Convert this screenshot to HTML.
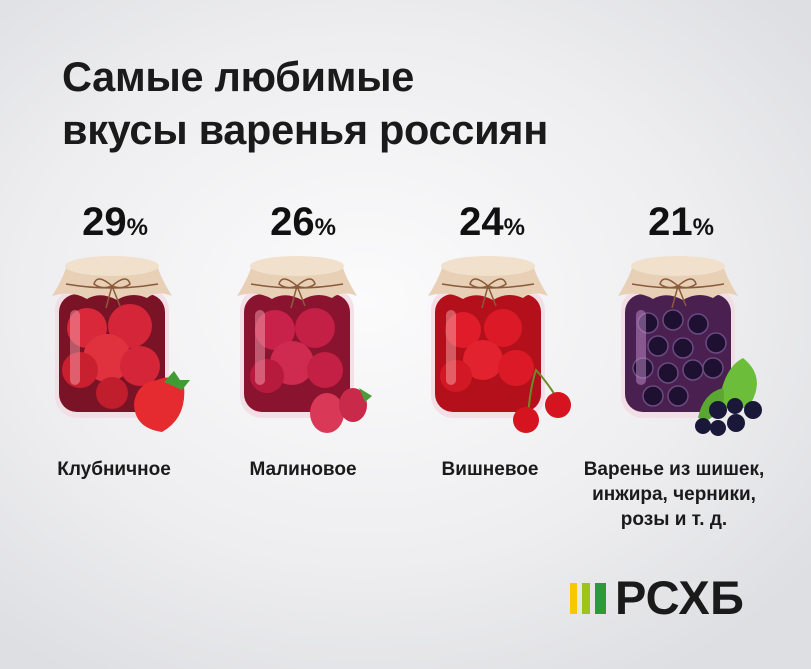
<!DOCTYPE html>
<html><head><meta charset="utf-8"><style>
html,body{margin:0;padding:0}
body{width:811px;height:669px;overflow:hidden;background:radial-gradient(ellipse 70% 65% at 45% 45%,#fbfbfc 0%,#eeeef0 60%,#dedfe2 100%);font-family:"Liberation Sans",sans-serif;position:relative}
.t{position:absolute;left:62px;top:50px;font-size:41.5px;font-weight:bold;line-height:53px;color:#1a1a1a;letter-spacing:-0.3px}
.p{position:absolute;top:200px;width:120px;text-align:center;font-size:40px;font-weight:bold;color:#111}
.p span{font-size:24px}
.l{position:absolute;top:457px;width:220px;text-align:center;font-size:19px;font-weight:bold;color:#1a1a1a;line-height:25px}
.logo{position:absolute;left:615px;top:570px;font-size:47px;font-weight:bold;color:#1a1a1a;letter-spacing:0.5px}
</style></head><body>
<div class="t">Самые любимые<br>вкусы варенья россиян</div>
<div class="p" style="left:55px">29<span>%</span></div>
<div class="p" style="left:243px">26<span>%</span></div>
<div class="p" style="left:432px">24<span>%</span></div>
<div class="p" style="left:621px">21<span>%</span></div>
<div class="l" style="left:4px">Клубничное</div>
<div class="l" style="left:193px">Малиновое</div>
<div class="l" style="left:380px">Вишневое</div>
<div class="l" style="left:564px">Варенье из шишек,<br>инжира, черники,<br>розы и т. д.</div>
<svg width="811" height="669" style="position:absolute;left:0;top:0">
<defs>
<g id="jarbase">
<rect x="-57" y="30" width="114" height="130" rx="22" fill="#f2dbe2" opacity="0.8"/>
</g>
<g id="lid">
<path d="M-60 38 Q-50 22 -46 10 Q0 -2 46 10 Q50 22 60 38 Q45 32 35 40 Q20 33 5 42 Q-12 33 -25 41 Q-40 32 -60 38Z" fill="#e8d0b7"/>
<ellipse cx="0" cy="8" rx="47" ry="10" fill="#f1e0cc"/>
<path d="M-46 26 Q0 34 46 26" stroke="#8a5a3a" stroke-width="1.5" fill="none"/>
<path d="M0 28 Q-15 15 -18 26 Q-10 32 0 28 Q15 15 18 26 Q10 32 0 28 L-6 50 M0 28 L8 48" stroke="#8a5a3a" stroke-width="1.5" fill="none"/>
</g>
</defs>
<g transform="translate(112,258)">
<use href="#jarbase"/>
<rect x="-53" y="36" width="106" height="118" rx="18" fill="#7a1325"/>
<circle cx="-25" cy="70" r="20" fill="#d8283a"/><circle cx="18" cy="68" r="22" fill="#d42638"/>
<circle cx="-5" cy="100" r="24" fill="#e0313f"/><circle cx="-32" cy="112" r="18" fill="#c9202f"/>
<circle cx="28" cy="108" r="20" fill="#d42638"/><circle cx="0" cy="135" r="16" fill="#c01d2d"/>
<rect x="-42" y="52" width="10" height="75" rx="5" fill="#f3a0ad" opacity="0.5"/>
<use href="#lid"/>
<path d="M45 122 Q62 115 72 128 Q75 160 50 174 Q22 170 22 145 Q25 125 45 122Z" fill="#e52b2f"/>
<path d="M52 124 L62 113 L68 122 L78 122 L70 132Z" fill="#3f9c35"/>
</g>
<g transform="translate(297,258)">
<use href="#jarbase"/>
<rect x="-53" y="36" width="106" height="118" rx="18" fill="#8a1330"/>
<circle cx="-22" cy="72" r="20" fill="#c8224a"/><circle cx="18" cy="70" r="20" fill="#c41f45"/>
<circle cx="-5" cy="105" r="22" fill="#cf2a50"/><circle cx="-30" cy="118" r="17" fill="#b81a3e"/>
<circle cx="28" cy="112" r="18" fill="#c41f45"/>
<rect x="-42" y="52" width="10" height="75" rx="5" fill="#f3a0ad" opacity="0.5"/>
<use href="#lid"/>
<ellipse cx="30" cy="155" rx="17" ry="20" fill="#d93856"/>
<ellipse cx="56" cy="147" rx="14" ry="17" fill="#c92a4a"/>
<path d="M62 130 L75 138 L68 144Z" fill="#4a9c3a"/>
</g>
<g transform="translate(488,258)">
<use href="#jarbase"/>
<rect x="-53" y="36" width="106" height="118" rx="18" fill="#b3101c"/>
<circle cx="-25" cy="72" r="18" fill="#e11c2a"/><circle cx="15" cy="70" r="19" fill="#dc1a27"/>
<circle cx="-5" cy="102" r="20" fill="#e3222f"/><circle cx="-32" cy="118" r="16" fill="#d21825"/>
<circle cx="28" cy="110" r="18" fill="#dc1a27"/>
<rect x="-42" y="52" width="10" height="75" rx="5" fill="#f6a3a8" opacity="0.5"/>
<use href="#lid"/>
<path d="M40 158 Q42 130 48 112 Q60 125 70 142" stroke="#6b8a2a" stroke-width="2" fill="none"/>
<circle cx="38" cy="162" r="13" fill="#d5141f"/><circle cx="70" cy="147" r="13" fill="#d5141f"/>
</g>
<g transform="translate(678,258)">
<use href="#jarbase"/>
<rect x="-53" y="36" width="106" height="118" rx="18" fill="#4a2050"/>
<g fill="#1e1030" stroke="#6a4a80" stroke-width="1.5">
<circle cx="-30" cy="65" r="10"/><circle cx="-5" cy="62" r="10"/><circle cx="20" cy="66" r="10"/><circle cx="38" cy="85" r="10"/>
<circle cx="-20" cy="88" r="10"/><circle cx="5" cy="90" r="10"/><circle cx="-35" cy="110" r="10"/><circle cx="-10" cy="115" r="10"/>
<circle cx="15" cy="112" r="10"/><circle cx="35" cy="110" r="10"/><circle cx="-25" cy="138" r="10"/><circle cx="0" cy="138" r="10"/>
</g>
<rect x="-42" y="52" width="10" height="75" rx="5" fill="#c490d0" opacity="0.5"/>
<use href="#lid"/>
<path d="M40 150 Q45 110 65 100 Q90 120 70 150Z" fill="#6bbd3a"/>
<path d="M20 160 Q25 135 45 130 Q50 150 30 162Z" fill="#5aa832"/>
<g fill="#1a1838"><circle cx="40" cy="152" r="9"/><circle cx="57" cy="148" r="8"/><circle cx="75" cy="152" r="9"/><circle cx="58" cy="165" r="9"/><circle cx="25" cy="168" r="8"/><circle cx="40" cy="170" r="8"/></g>
</g>
<rect x="570" y="583" width="7" height="31" fill="#f5c800"/>
<rect x="582" y="583" width="8" height="31" fill="#9ec31a"/>
<rect x="595" y="583" width="11" height="31" fill="#2a9a3a"/>
</svg>
<div class="logo">РСХБ</div>
</body></html>
